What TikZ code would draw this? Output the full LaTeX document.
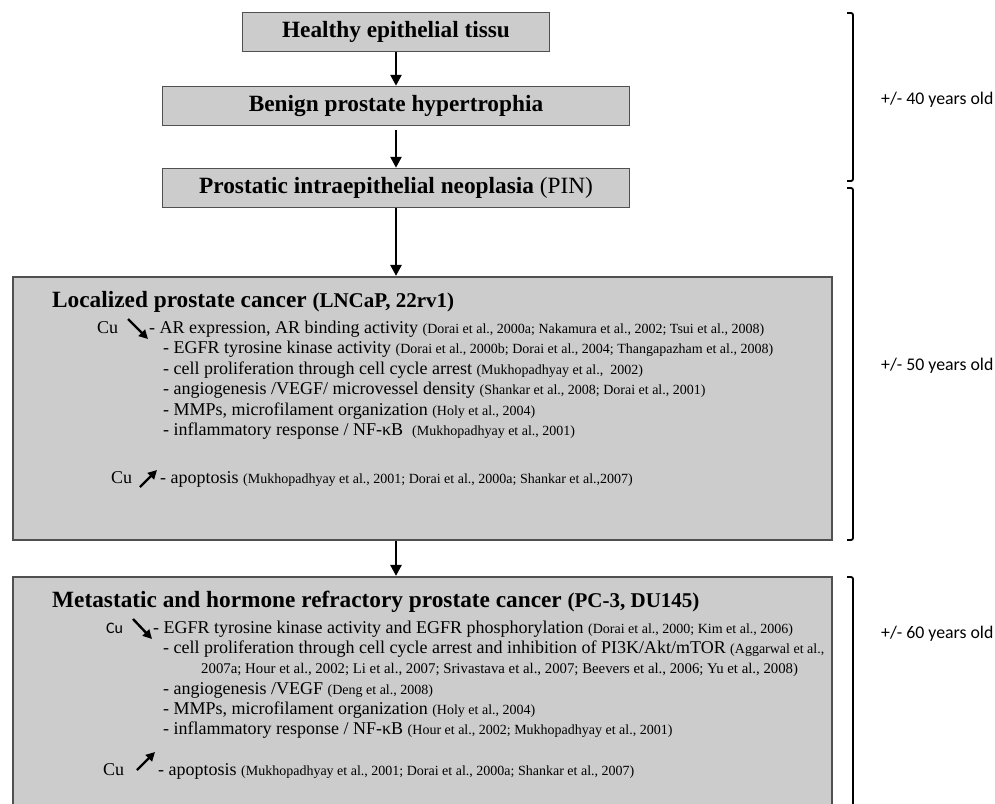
\documentclass[tikz,border=0pt]{standalone}
\usepackage{fontspec}
\setmainfont{Liberation Serif}
\newfontfamily\calibrifont{Carlito}
\usetikzlibrary{arrows.meta}
\definecolor{boxfill}{RGB}{204,204,204}
\definecolor{boxline}{RGB}{80,80,80}
\newcommand\TitleF{\fontsize{23.3}{27}\selectfont\bfseries}
\newcommand\SubF{\fontsize{21}{25}\selectfont\bfseries}
\newcommand\BodyF{\fontsize{18}{21}\selectfont}
\newcommand\CiteF{\fontsize{14}{17}\selectfont}
\newcommand\AgeF{\calibrifont\fontsize{17.8}{21}\selectfont}
\newcommand\Cit[1]{{\CiteF #1}}
\begin{document}
\begin{tikzpicture}[x=1pt,y=-1pt,
  stagebox/.style={draw=boxline, fill=boxfill, line width=1.5pt, inner sep=0pt, rectangle},
  bigbox/.style={draw=boxline, fill=boxfill, line width=2.2pt, inner sep=0pt, rectangle},
  txt/.style={anchor=base west, inner sep=0pt},
  flow/.style={line width=2.6pt, -{Triangle[width=11pt,length=11pt]}},
  cuarrow/.style={line width=2.4pt, -{Triangle[width=9pt,length=9pt]}},
  bracket/.style={line width=1.8pt, rounded corners=2pt},
]
\clip (0,0) rectangle (995,803);
\fill[white] (0,0) rectangle (995,803);

% stage boxes
\node[stagebox, minimum width=307pt, minimum height=39pt] (b1) at (396,32) {\TitleF Healthy epithelial tissu};
\node[stagebox, minimum width=467pt, minimum height=39pt] (b2) at (396,106) {\TitleF Benign prostate hypertrophia};
\node[stagebox, minimum width=467pt, minimum height=39pt] (b3) at (396,188) {\TitleF Prostatic intraepithelial neoplasia \mdseries(PIN)};
\node[bigbox, minimum width=819pt, minimum height=263pt] (b4) at (422.5,408.5) {};
\node[bigbox, minimum width=819pt, minimum height=260pt] (b5) at (422.5,707) {};

% flow arrows
\draw[flow] (b1.south) -- (b2.north);
\draw[flow] ([yshift=-4pt]b2.south) -- (b3.north);
\draw[flow] (b3.south) -- (b3.south |- b4.north);
\draw[flow] (b3.south |- b4.south) -- (b3.south |- b5.north);

% localized box
\node[txt] (t4) at (52,307) {\TitleF Localized prostate cancer \SubF(LNCaP, 22rv1)};
\node[txt] (cu4a) at (97,333) {\BodyF Cu};
\draw[cuarrow] (128,319) -- (148,339);
\node[txt] (l4a) at (149,333) {\BodyF - AR expression, AR binding activity \Cit{(Dorai et al., 2000a; Nakamura et al., 2002; Tsui et al., 2008)}};
\node[txt] (l4b) at (163,353.5) {\BodyF - EGFR tyrosine kinase activity \Cit{(Dorai et al., 2000b; Dorai et al., 2004; Thangapazham et al., 2008)}};
\node[txt] (l4c) at (163,374) {\BodyF - cell proliferation through cell cycle arrest \Cit{(Mukhopadhyay et al.,~ 2002)}};
\node[txt] (l4d) at (163,394.5) {\BodyF - angiogenesis /VEGF/ microvessel density \Cit{(Shankar et al., 2008; Dorai et al., 2001)}};
\node[txt] (l4e) at (163,415) {\BodyF - MMPs, microfilament organization \Cit{(Holy et al., 2004)}};
\node[txt] (l4f) at (163,435.5) {\BodyF - inflammatory response / NF-κB~ \Cit{(Mukhopadhyay et al., 2001)}};
\node[txt] (cu4b) at (111,483) {\BodyF Cu};
\draw[cuarrow] (140,487) -- (157,470);
\node[txt] (l4g) at (160,483) {\BodyF - apoptosis \Cit{(Mukhopadhyay et al., 2001; Dorai et al., 2000a; Shankar et al.,2007)}};

% metastatic box
\node[txt] (t5) at (52,607) {\TitleF Metastatic and hormone refractory prostate cancer \SubF(PC-3, DU145)};
\node[txt] (cu5a) at (106,633) {\calibrifont\fontsize{16}{19}\selectfont Cu};
\draw[cuarrow] (133,619) -- (152,639);
\node[txt] (l5a) at (153,633) {\BodyF - EGFR tyrosine kinase activity and EGFR phosphorylation \Cit{(Dorai et al., 2000; Kim et al., 2006)}};
\node[txt] (l5b) at (163,653) {\BodyF - cell proliferation through cell cycle arrest and inhibition of PI3K/Akt/mTOR \Cit{(Aggarwal et al.,}};
\node[txt] (l5c) at (201,673) {\fontsize{14.8}{17}\selectfont 2007a; Hour et al., 2002; Li et al., 2007; Srivastava et al., 2007; Beevers et al., 2006; Yu et al., 2008)};
\node[txt] (l5d) at (163,694) {\BodyF - angiogenesis /VEGF \Cit{(Deng et al., 2008)}};
\node[txt] (l5e) at (163,714) {\BodyF - MMPs, microfilament organization \Cit{(Holy et al., 2004)}};
\node[txt] (l5f) at (163,734) {\BodyF - inflammatory response / NF-κB \Cit{(Hour et al., 2002; Mukhopadhyay et al., 2001)}};
\node[txt] (cu5b) at (103,775) {\BodyF Cu};
\draw[cuarrow] (137,770) -- (155,752);
\node[txt] (l5g) at (158,775) {\BodyF - apoptosis \Cit{(Mukhopadhyay et al., 2001; Dorai et al., 2000a; Shankar et al., 2007)}};

% age brackets
\draw[bracket] (847,13) -- (853,13) -- (853,181) -- (847,181);
\draw[bracket] (847,188) -- (853,188) -- (853,540) -- (847,540);
\draw[bracket] (847,577) -- (853,577) -- (853,815);
\node[txt] (age40) at (881,104) {\AgeF +/- 40 years old};
\node[txt] (age50) at (881,370) {\AgeF +/- 50 years old};
\node[txt] (age60) at (881,638) {\AgeF +/- 60 years old};
\end{tikzpicture}
\end{document}
